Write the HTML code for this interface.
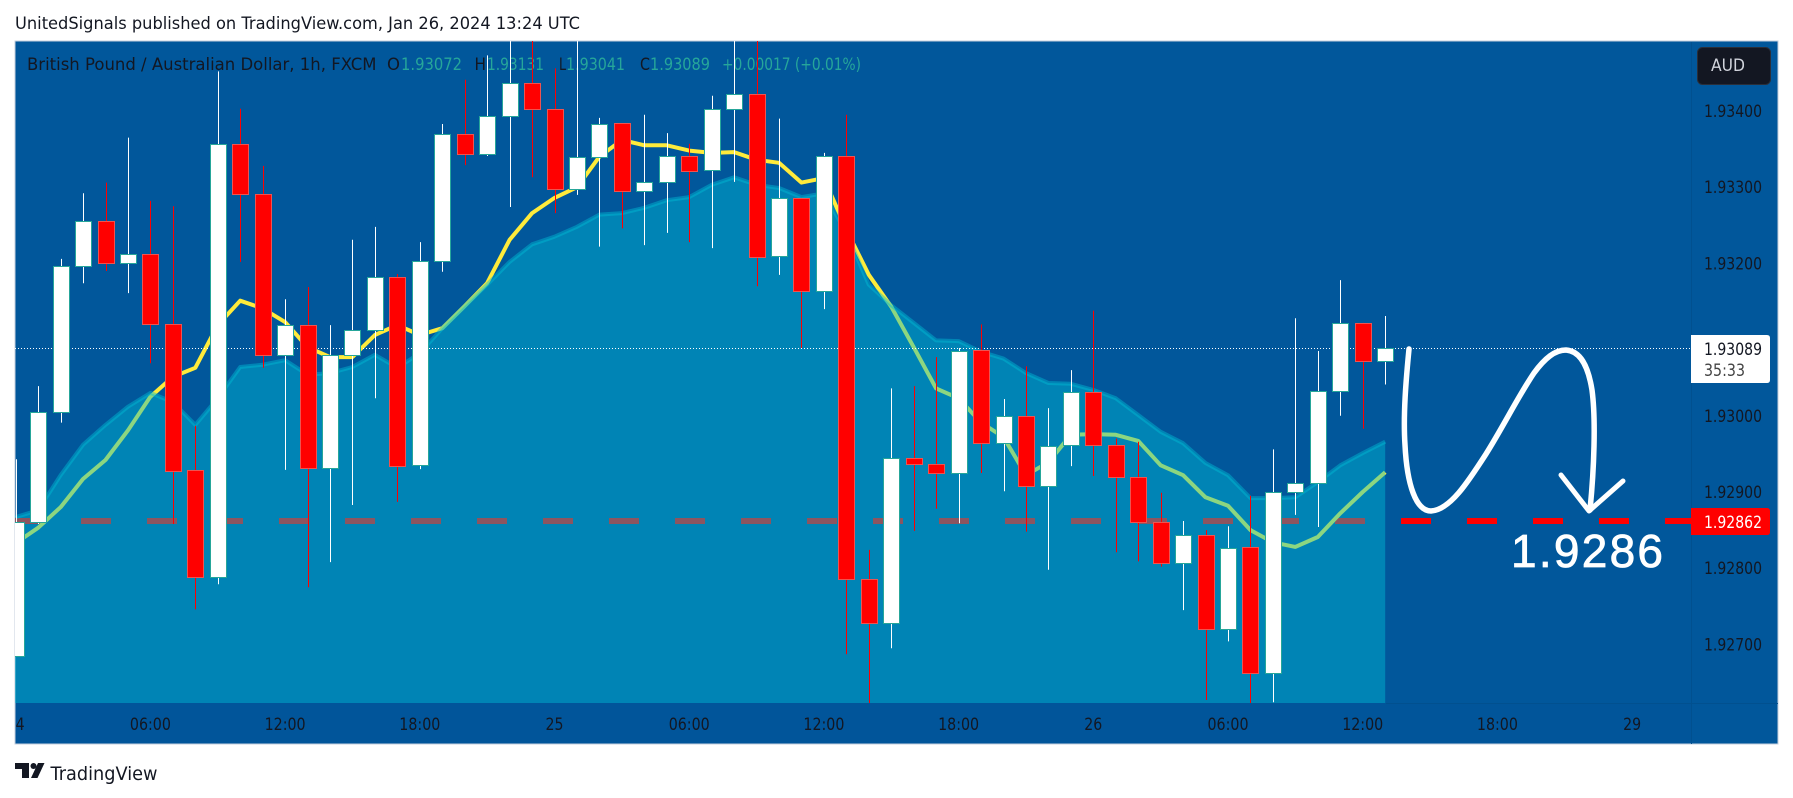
<!DOCTYPE html>
<html lang="en">
<head>
<meta charset="utf-8">
<title>GBP/AUD 1h chart</title>
<style>
html,body{margin:0;padding:0;background:#fff;}
svg{display:block;}
text{font-family:"DejaVu Sans","Liberation Sans",sans-serif;white-space:pre;}
</style>
</head>
<body>
<svg id="chart" xmlns="http://www.w3.org/2000/svg" width="1793" height="798" viewBox="0 0 1793 798">
  <defs>
    <clipPath id="plotClip"><rect x="15" y="41" width="1676" height="662"/></clipPath>
    <clipPath id="timeClip"><rect x="15" y="703" width="1676" height="41"/></clipPath>
  </defs>
  <rect x="0" y="0" width="1793" height="798" fill="#ffffff"/>
  <text x="15" y="29" font-size="16.5" fill="#131722" textLength="565" lengthAdjust="spacingAndGlyphs">UnitedSignals published on TradingView.com, Jan 26, 2024 13:24 UTC</text>
  <rect x="15" y="41" width="1763" height="703" fill="#01579b" stroke="#c5cfdd" stroke-width="1"/>
  <rect x="15.5" y="703" width="1676" height="40.5" fill="#01559a"/>
  <line x1="1386" y1="703.5" x2="1778" y2="703.5" stroke="#01508f" stroke-width="1"/>
  <line x1="1691.5" y1="42" x2="1691.5" y2="744" stroke="#01508f" stroke-width="1"/>

  <g id="series" clip-path="url(#plotClip)"></g>
  <g id="timeAxis" clip-path="url(#timeClip)"></g>
  <g id="priceAxis"></g>

  <g fill="none" stroke="#ffffff" stroke-linecap="round" stroke-linejoin="round">
    <path stroke-width="5.5" d="M1409 349 C1406 380,1403 415,1405 445 C1407 485,1416 511,1431 511 C1450 510,1468 482,1486 454 C1503 427,1519 395,1534 373 C1545 358,1555 350,1566 350 C1580 351,1588 365,1592 390 C1596 420,1594 470,1590 510"/>
    <path stroke-width="5" d="M1561 475 L1589 511 L1623 481"/>
  </g>
  <text x="1511" y="567" font-size="46" fill="#ffffff" stroke="#ffffff" stroke-width="0.8" textLength="152" lengthAdjust="spacing" style="font-family:'Liberation Sans',sans-serif">1.9286</text>

  <g>
    <rect x="1697.5" y="47.5" width="73" height="37" rx="5" fill="#131722" stroke="#2a2e39"/>
    <text x="1711" y="71" font-size="16.5" fill="#d1d4dc" textLength="34" lengthAdjust="spacingAndGlyphs">AUD</text>
  </g>

  <g>
    <path d="M1691 335 H1767 Q1770 335 1770 338 V380 Q1770 383 1767 383 H1691 Z" fill="#ffffff"/>
    <text x="1704" y="355" font-size="16.5" fill="#131722" textLength="58" lengthAdjust="spacingAndGlyphs">1.93089</text>
    <text x="1704" y="376" font-size="16.5" fill="#444444" textLength="41" lengthAdjust="spacingAndGlyphs">35:33</text>
  </g>
  <g>
    <path d="M1691 508 H1767 Q1770 508 1770 511 V532 Q1770 535 1767 535 H1691 Z" fill="#ff0000"/>
    <text x="1704" y="528" font-size="16.5" fill="#ffffff" textLength="58" lengthAdjust="spacingAndGlyphs">1.92862</text>
  </g>

  <g>
    <path fill="#131722" d="M15 763 H29 V778 H22 V769 H15 Z M38 763 H44.5 L37.5 778 H31 Z"/>
    <circle cx="33.5" cy="766" r="3" fill="#131722"/>
    <text x="50.5" y="780" font-size="19" fill="#131722" textLength="107" lengthAdjust="spacingAndGlyphs">TradingView</text>
  </g>
</svg>
<script>
const opens = [1.92685,1.92861,1.93005,1.93197,1.93256,1.93201,1.93212,1.93120,1.92929,1.92788,1.93357,1.93291,1.93080,1.93119,1.92932,1.93080,1.93113,1.93182,1.92935,1.93203,1.93370,1.93344,1.93393,1.93437,1.93403,1.93298,1.93340,1.93384,1.93295,1.93307,1.93341,1.93323,1.93403,1.93422,1.93210,1.93286,1.93164,1.93341,1.92786,1.92728,1.92945,1.92937,1.92925,1.93086,1.92964,1.93000,1.92908,1.92962,1.93031,1.92962,1.92920,1.92861,1.92807,1.92844,1.92720,1.92828,1.92662,1.92900,1.92912,1.93033,1.93122,1.93072];
const highs = [1.92943,1.93039,1.93206,1.93292,1.93306,1.93365,1.93282,1.93275,1.92987,1.93452,1.93403,1.93328,1.93153,1.93169,1.93119,1.93231,1.93248,1.93186,1.93228,1.93383,1.93441,1.93473,1.93500,1.93500,1.93456,1.93500,1.93391,1.93384,1.93395,1.93371,1.93357,1.93420,1.93500,1.93500,1.93390,1.93286,1.93345,1.93395,1.92824,1.93036,1.93039,1.93077,1.93089,1.93120,1.93022,1.93065,1.93010,1.93060,1.93138,1.92970,1.92966,1.92899,1.92862,1.92850,1.92855,1.92895,1.92956,1.93128,1.93085,1.93178,1.93122,1.93131];
const lows = [1.92685,1.92858,1.92991,1.93174,1.93190,1.93161,1.93069,1.92858,1.92746,1.92779,1.93202,1.93063,1.92929,1.92775,1.92808,1.92883,1.93023,1.92887,1.92930,1.93189,1.93329,1.93341,1.93274,1.93313,1.93266,1.93290,1.93222,1.93246,1.93224,1.93240,1.93228,1.93220,1.93307,1.93170,1.93185,1.93089,1.93140,1.92687,1.92623,1.92695,1.92849,1.92878,1.92859,1.92925,1.92901,1.92848,1.92798,1.92934,1.92921,1.92821,1.92809,1.92802,1.92745,1.92627,1.92704,1.92623,1.92624,1.92870,1.92854,1.93000,1.92983,1.93041];
const closes = [1.92861,1.93005,1.93197,1.93256,1.93201,1.93212,1.93120,1.92928,1.92788,1.93357,1.93291,1.93080,1.93119,1.92932,1.93080,1.93113,1.93182,1.92934,1.93203,1.93370,1.93344,1.93393,1.93437,1.93403,1.93298,1.93340,1.93383,1.93295,1.93307,1.93341,1.93321,1.93403,1.93422,1.93208,1.93286,1.93164,1.93341,1.92786,1.92728,1.92945,1.92937,1.92925,1.93085,1.92964,1.93000,1.92908,1.92960,1.93031,1.92962,1.92920,1.92861,1.92807,1.92844,1.92720,1.92827,1.92662,1.92900,1.92912,1.93033,1.93122,1.93072,1.93089];
const fastMa = [1.92833,1.92853,1.92880,1.92917,1.92942,1.92981,1.93025,1.93051,1.93063,1.93119,1.93151,1.93141,1.93123,1.93090,1.93077,1.93077,1.93106,1.93119,1.93106,1.93115,1.93144,1.93174,1.93231,1.93266,1.93286,1.93300,1.93340,1.93362,1.93355,1.93355,1.93348,1.93345,1.93346,1.93336,1.93332,1.93306,1.93312,1.93244,1.93185,1.93143,1.93090,1.93036,1.93023,1.92991,1.92972,1.92922,1.92939,1.92975,1.92976,1.92975,1.92967,1.92935,1.92922,1.92893,1.92882,1.92850,1.92834,1.92828,1.92841,1.92872,1.92900,1.92926];
const slowMa = [1.92867,1.92876,1.92922,1.92962,1.92988,1.93012,1.93030,1.93018,1.92988,1.93023,1.93064,1.93067,1.93073,1.93054,1.93056,1.93064,1.93080,1.93063,1.93082,1.93115,1.93144,1.93172,1.93202,1.93225,1.93235,1.93248,1.93264,1.93266,1.93273,1.93283,1.93287,1.93303,1.93313,1.93303,1.93299,1.93287,1.93292,1.93240,1.93172,1.93145,1.93122,1.93099,1.93098,1.93084,1.93075,1.93056,1.93043,1.93042,1.93034,1.93023,1.93001,1.92979,1.92964,1.92938,1.92922,1.92892,1.92892,1.92893,1.92913,1.92935,1.92951,1.92966];
const priceTicks = [1.934,1.933,1.932,1.93,1.929,1.928,1.927];
const priceTickLabels = ["1.93400","1.93300","1.93200","1.93000","1.92900","1.92800","1.92700"];
const timeTickBars = [0,6,12,18,24,30,36,42,48,54,60,66,72];
const timeTickLabels = ["24","06:00","12:00","18:00","25","06:00","12:00","18:00","26","06:00","12:00","18:00","29"];
const targetPrice = [1.92862];
const lastPrice = [1.93089];
const legendParts = [
  ["British Pound / Australian Dollar, 1h, FXCM  O", "#131722"],
  ["1.93072", "#26a69a"],
  ["H", "#131722"],
  ["1.93131", "#26a69a"],
  ["L", "#131722"],
  ["1.93041", "#26a69a"],
  ["C", "#131722"],
  ["1.93089", "#26a69a"],
  ["+0.00017 (+0.01%)", "#26a69a"]
];

const SVGNS = "http://www.w3.org/2000/svg";
const xOf = function (bar) { return 15.7 + 22.45 * bar; };
const yOf = function (price) { return 111 + (1.934 - price) * 76200; };
const PLOT_BOTTOM = 703;
const legendBox = [[27,373],[401,61],[474.5,11.5],[487,57],[559,7],[566,59],[640,10],[650,60],[722,139]];

function make(tag, attrs, parent) {
  const el = document.createElementNS(SVGNS, tag);
  for (const k in attrs) el.setAttribute(k, attrs[k]);
  parent.appendChild(el);
  return el;
}
function linePath(values) {
  return values.map(function (v, i) {
    return (i ? "L" : "M") + xOf(i).toFixed(1) + " " + yOf(v).toFixed(1);
  }).join(" ");
}

const series = document.getElementById("series");

const targetLine = make("line", {x1: 15, x2: 1691, y1: yOf(targetPrice[0]), y2: yOf(targetPrice[0]), stroke: "#ff0000", "stroke-width": 6, "stroke-dasharray": "30 36"}, series);



const fastLine = make("path", {d: linePath(fastMa), fill: "none", stroke: "#ffeb3b", "stroke-width": 4, "stroke-linejoin": "round"}, series);



const areaD = "M15 " + PLOT_BOTTOM + " L15 " + yOf(slowMa[0]).toFixed(1) + " " + linePath(slowMa).replace("M", "L") + " L" + xOf(slowMa.length - 1).toFixed(1) + " " + PLOT_BOTTOM + " Z";
const areaFill = make("path", {d: areaD, fill: "#00bcd4", "fill-opacity": 0.45}, series);



const areaLine = make("path", {d: linePath(slowMa), fill: "none", stroke: "#00bcd4", "stroke-opacity": 0.45, "stroke-width": 4, "stroke-linejoin": "round"}, series);



const legend = make("g", {}, series);


legendParts.forEach(function (part, i) {
  const t = make("text", {x: legendBox[i][0], y: 70, "font-size": 16.5, fill: part[1], textLength: legendBox[i][1], lengthAdjust: "spacingAndGlyphs"}, legend);
  
  
  t.textContent = part[0];
});

const lastLine = make("line", {x1: 15, x2: 1691, y1: Math.round(yOf(lastPrice[0])) + 0.5, y2: Math.round(yOf(lastPrice[0])) + 0.5, stroke: "#ffffff", "stroke-width": 1, "stroke-dasharray": "1 2"}, series);



opens.forEach(function (o, i) {
  const c = closes[i];
  const up = c >= o;
  const cx = Math.round(xOf(i));
  const top = Math.round(yOf(Math.max(o, c)));
  const bottom = Math.round(yOf(Math.min(o, c)));
  const g = make("g", {}, series);
  
  
  const wick = make("line", {x1: cx + 0.5, x2: cx + 0.5, y1: yOf(highs[i]), y2: yOf(lows[i]), stroke: up ? "#ffffff" : "#ff0000", "stroke-width": 1}, g);
  
  
  const body = make("rect", {x: cx - 7.5, y: top + 0.5, width: 16, height: Math.max(bottom - top, 1), fill: up ? "#ffffff" : "#ff0000", stroke: up ? "#26a69a" : "#ef5350", "stroke-width": 1}, g);
  
  
});

const timeAxis = document.getElementById("timeAxis");
timeTickBars.forEach(function (bar, i) {
  const label = timeTickLabels[i];
  const t = make("text", {x: xOf(bar), y: 730, "font-size": 16.5, fill: "#131722", "text-anchor": "middle", textLength: label.length > 2 ? 41 : 18, lengthAdjust: "spacingAndGlyphs"}, timeAxis);
  
  
  t.textContent = label;
});

const priceAxis = document.getElementById("priceAxis");
priceTicks.forEach(function (p, i) {
  const t = make("text", {x: 1704, y: yOf(p) + 6, "font-size": 16.5, fill: "#131722", textLength: 58, lengthAdjust: "spacingAndGlyphs"}, priceAxis);
  
  
  t.textContent = priceTickLabels[i];
});
</script>
</body>
</html>
